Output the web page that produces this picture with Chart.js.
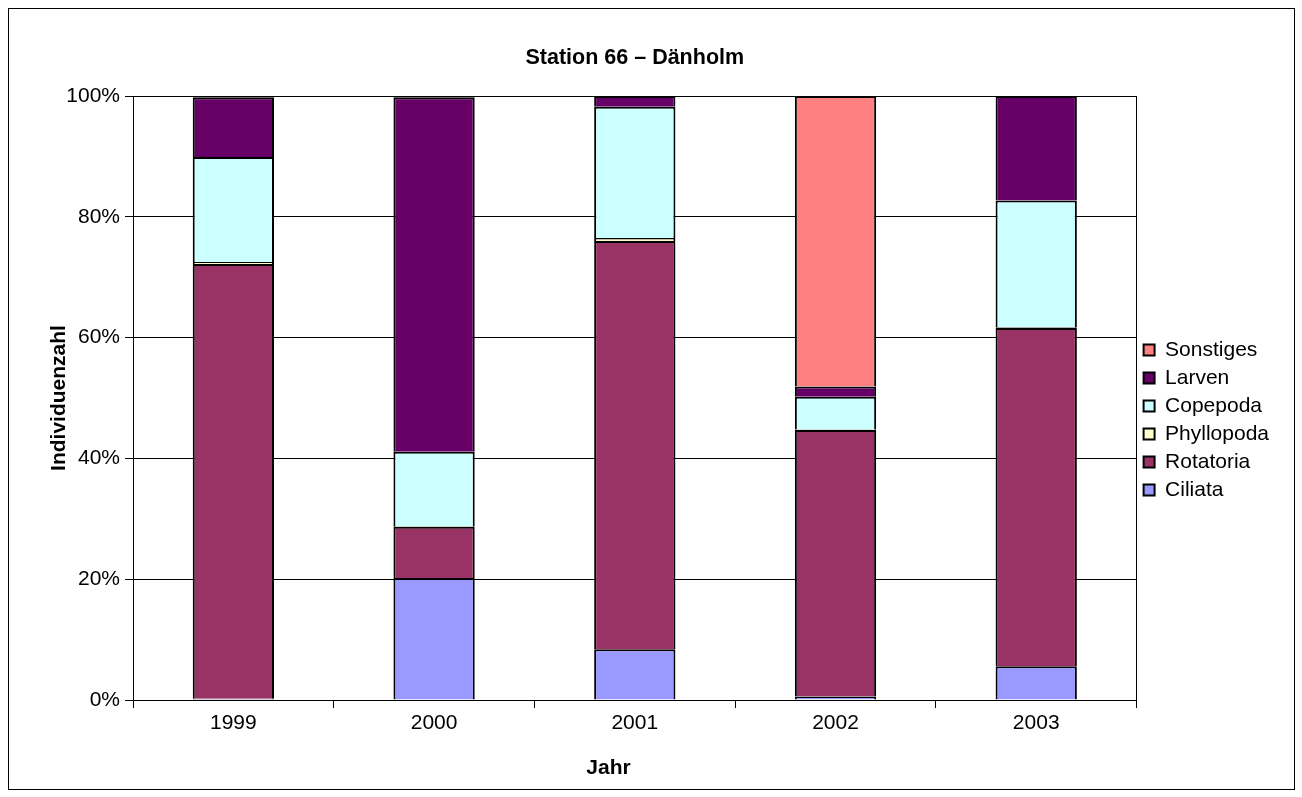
<!DOCTYPE html>
<html>
<head>
<meta charset="utf-8">
<script src="https://cdn.jsdelivr.net/npm/chart.js@4.4.1/dist/chart.umd.min.js"></script>
<style>
  html, body { margin: 0; padding: 0; background: #ffffff; }
  #frame {
    position: absolute; left: 8px; top: 8px;
    width: 1285px; height: 780px;
    border: 1px solid #000000;
    background: #ffffff;
  }
  canvas { display: block; }
</style>
</head>
<body>
<div id="frame"><canvas id="chart" width="1285" height="780"></canvas></div>
<script>
// Jahre (Kategorien)
const years = ['1999', '2000', '2001', '2002', '2003'];

// Anteile der Gruppen an der Individuenzahl in Prozent, von unten nach oben gestapelt
const ciliata    = [0.2, 20.2,  8.4,  0.6,  5.6];
const rotatoria  = [72.0, 8.5, 67.6, 44.1, 56.0];
const phyllopoda = [0.3,  0.1,  0.5,  0.1,  0.1];
const copepoda   = [17.4, 12.3, 21.7, 5.4, 21.0];
const larven     = [9.9, 58.7,  1.8,  1.7, 17.3];
const sonstiges  = [0.2,  0.2,  0.0, 48.1,  0.0];

// Achsenbeschriftung der y-Achse
const yTicks = [0, 20, 40, 60, 80, 100];

const FONT = 'Arial, "Liberation Sans", sans-serif';
const FS = 21;

const series = [
  { label: 'Ciliata',    data: ciliata,    color: '#9999FF' },
  { label: 'Rotatoria',  data: rotatoria,  color: '#993366' },
  { label: 'Phyllopoda', data: phyllopoda, color: '#FFFFCC' },
  { label: 'Copepoda',   data: copepoda,   color: '#CCFFFF' },
  { label: 'Larven',     data: larven,     color: '#660066' },
  { label: 'Sonstiges',  data: sonstiges,  color: '#FF8080' }
];

// Rahmen um die Zeichenfläche
const plotBorder = {
  id: 'plotBorder',
  afterDraw(chart) {
    const { ctx, chartArea: a } = chart;
    ctx.save();
    ctx.strokeStyle = '#000000';
    ctx.lineWidth = 1;
    ctx.strokeRect(Math.round(a.left) + 0.5, Math.round(a.top) + 0.5,
                   Math.round(a.right - a.left) - 1, Math.round(a.bottom - a.top));
    ctx.restore();
  }
};

new Chart(document.getElementById('chart'), {
  type: 'bar',
  data: {
    labels: years,
    datasets: series.map(s => ({
      label: s.label,
      data: s.data,
      backgroundColor: s.color,
      borderColor: '#000000',
      borderWidth: 2,
      borderSkipped: 'start',
      barPercentage: 0.405,
      categoryPercentage: 1.0
    }))
  },
  options: {
    responsive: false,
    devicePixelRatio: 1,
    animation: false,
    layout: { padding: { left: 38, right: 15, top: 0, bottom: 0 } },
    plugins: {
      tooltip: { enabled: false },
      title: {
        display: true,
        text: 'Station 66 – Dänholm',
        fullSize: false,
        color: '#000000',
        font: { family: FONT, size: 21.5, weight: 'bold' },
        padding: { top: 36.3, bottom: 24.9 }
      },
      legend: {
        display: true,
        position: 'right',
        fullSize: false,
        align: 'center',
        reverse: true,
        title: { display: true, text: '', font: { size: 10 }, padding: { top: 0, bottom: 32 } },
        labels: {
          color: '#000000',
          font: { family: FONT, size: FS },
          boxWidth: 11,
          boxHeight: 11,
          padding: 7
        }
      }
    },
    scales: {
      x: {
        stacked: true,
        offset: true,
        border: { display: true, color: '#000000', width: 1 },
        grid: {
          display: true,
          offset: true,
          drawOnChartArea: false,
          drawTicks: true,
          tickLength: 8,
          color: '#000000'
        },
        ticks: { color: '#000000', font: { family: FONT, size: FS }, padding: 3 },
        title: {
          display: true,
          text: 'Jahr\u00A0\u00A0\u00A0\u00A0\u00A0\u00A0\u00A0\u00A0\u00A0',
          color: '#000000',
          font: { family: FONT, size: FS, weight: 'bold' },
          padding: { top: 0, bottom: 8.4 }
        },
        afterFit(scale) { scale.height = 89; }
      },
      y: {
        stacked: true,
        min: 0,
        max: 100,
        border: { display: true, color: '#000000', width: 1 },
        grid: {
          color: '#000000',
          lineWidth: 1,
          drawTicks: true,
          tickLength: 8
        },
        afterBuildTicks(scale) { scale.ticks = yTicks.map(v => ({ value: v })); },
        ticks: {
          color: '#000000',
          font: { family: FONT, size: FS },
          padding: 5,
          callback: v => v + '%'
        },
        title: {
          display: true,
          text: 'Individuenzahl',
          color: '#000000',
          font: { family: FONT, size: FS, weight: 'bold' },
          padding: { top: 0, bottom: 0 }
        },
        afterFit(scale) { scale.width = 86; }
      }
    }
  },
  plugins: [plotBorder]
});
</script>
</body>
</html>
